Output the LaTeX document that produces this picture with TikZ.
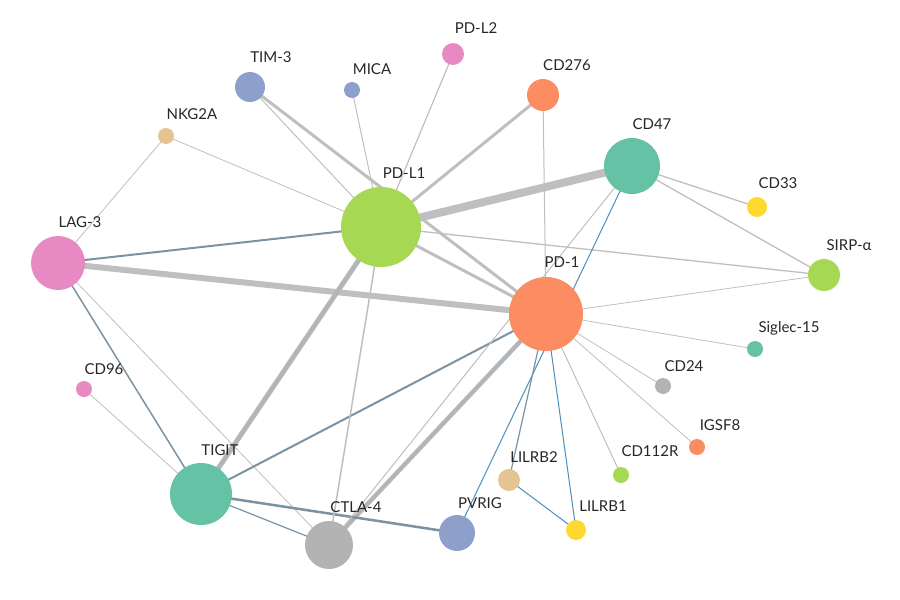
\documentclass[tikz,border=0pt]{standalone}
\usepackage{fontspec}
\setmainfont{Lato}
\begin{document}
\begin{tikzpicture}[x=1pt,y=-1pt,
 n/.style={circle,inner sep=0pt,minimum size=#1},
 lab/.style={font=\fontsize{15}{17}\selectfont,text=black!85},
 e/.style={draw=black!25,line width=#1},
 eb/.style={draw=bgr,line width=#1},
 ebl/.style={draw=bbl,line width=#1},
 dbl/.style={draw=black!28,line width=#1,postaction={draw=bgr!70,line width=0.8}}]
\useasboundingbox (0,0) rectangle (900,600);
\definecolor{cg}{HTML}{66C2A5}\definecolor{co}{HTML}{FC8D62}\definecolor{cb}{HTML}{8DA0CB}
\definecolor{cp}{HTML}{E78AC3}\definecolor{cl}{HTML}{A6D854}\definecolor{cy}{HTML}{FFD92F}
\definecolor{ct}{HTML}{E5C494}\definecolor{cgr}{HTML}{B3B3B3}
\definecolor{bgr}{HTML}{7B92A3}\definecolor{bbl}{HTML}{4A90BF}
\coordinate (PDL1) at (381,227); \coordinate (PD1) at (546,314); \coordinate (LAG3) at (58,263);
\coordinate (CD47) at (632,166); \coordinate (TIGIT) at (201,494); \coordinate (CTLA4) at (329,545);
\coordinate (PVRIG) at (457,533); \coordinate (TIM3) at (250,87); \coordinate (MICA) at (352,90);
\coordinate (PDL2) at (453,54); \coordinate (CD276) at (543,95); \coordinate (NKG2A) at (166,136);
\coordinate (CD33) at (757,207); \coordinate (SIRPA) at (824,275); \coordinate (SIG) at (755,349);
\coordinate (CD24) at (663,386); \coordinate (IGSF8) at (697,447); \coordinate (CD112R) at (621,475);
\coordinate (LILRB2) at (509,480); \coordinate (LILRB1) at (576,530); \coordinate (CD96) at (84,389);
% edges
\draw[e=8] (PDL1)--(CD47);
\draw[e=6] (LAG3)--(PD1);
\draw[dbl=5] (PDL1)--(TIGIT);
\draw[dbl=4.5] (PD1)--(CTLA4);
\draw[e=3] (PDL1)--(PD1);
\draw[e=3] (TIM3)--(PD1);
\draw[e=1] (TIM3)--(PDL1);
\draw[e=3] (PDL1)--(CD276);
\draw[e=1.2] (PDL1)--(PDL2);
\draw[e=1] (PDL1)--(MICA);
\draw[e=0.8] (PDL1)--(NKG2A);
\draw[eb=2] (LAG3)--(PDL1);
\draw[e=0.8] (LAG3)--(NKG2A);
\draw[eb=1.5] (LAG3)--(TIGIT);
\draw[e=0.8] (LAG3)--(CTLA4);
\draw[e=0.8] (CD96)--(TIGIT);
\draw[eb=2] (TIGIT)--(PD1);
\draw[eb=1.2] (TIGIT)--(CTLA4);
\draw[eb=2.5] (TIGIT)--(PVRIG);
\draw[e=1.5] (PDL1)--(CTLA4);
\draw[e=1.3] (PDL1)--(SIRPA);
\draw[e=0.8] (PD1)--(SIRPA);
\draw[e=1.3] (CD47)--(SIRPA);
\draw[e=1.3] (CD47)--(CD33);
\draw[e=1] (CD47)--(CTLA4);
\draw[ebl=1] (CD47)--(PVRIG);
\draw[e=1] (PD1)--(CD276);
\draw[e=0.8] (PD1)--(SIG);
\draw[e=0.8] (PD1)--(CD24);
\draw[e=0.8] (PD1)--(IGSF8);
\draw[e=1] (PD1)--(CD112R);
\draw[eb=1.2] (PD1)--(LILRB2);
\draw[ebl=1] (PD1)--(LILRB1);
\draw[ebl=1] (LILRB2)--(LILRB1);
% nodes
\node[n=80,fill=cl] (pdl1) at (PDL1) {}; \node[lab] at (404,173) {PD-L1};
\node[n=74,fill=co] (pd1) at (PD1) {}; \node[lab] at (562,262) {PD-1};
\node[n=54,fill=cp] (lag3) at (LAG3) {}; \node[lab] at (80,222) {LAG-3};
\node[n=56,fill=cg] (cd47) at (CD47) {}; \node[lab] at (652,124) {CD47};
\node[n=62,fill=cg] (tigit) at (TIGIT) {}; \node[lab] at (220,450) {TIGIT};
\node[n=48,fill=cgr] (ctla4) at (CTLA4) {}; \node[lab] at (356,507) {CTLA-4};
\node[n=36,fill=cb] (pvrig) at (PVRIG) {}; \node[lab] at (480,503) {PVRIG};
\node[n=30,fill=cb] (tim3) at (TIM3) {}; \node[lab] at (271,57) {TIM-3};
\node[n=16,fill=cb] (mica) at (MICA) {}; \node[lab] at (372,69) {MICA};
\node[n=22,fill=cp] (pdl2) at (PDL2) {}; \node[lab] at (476,28) {PD-L2};
\node[n=32,fill=co] (cd276) at (CD276) {}; \node[lab] at (567,65) {CD276};
\node[n=16,fill=ct] (nkg2a) at (NKG2A) {}; \node[lab] at (192,114) {NKG2A};
\node[n=20,fill=cy] (cd33) at (CD33) {}; \node[lab] at (778,183) {CD33};
\node[n=32,fill=cl] (sirpa) at (SIRPA) {}; \node[lab] at (849,245) {SIRP-α};
\node[n=16,fill=cg] (sig) at (SIG) {}; \node[lab] at (789,328) {Siglec-15};
\node[n=16,fill=cgr] (cd24) at (CD24) {}; \node[lab] at (684,366) {CD24};
\node[n=16,fill=co] (igsf8) at (IGSF8) {}; \node[lab] at (720,425) {IGSF8};
\node[n=16,fill=cl] (cd112r) at (CD112R) {}; \node[lab] at (650,451) {CD112R};
\node[n=22,fill=ct] (lilrb2) at (LILRB2) {}; \node[lab] at (534,457) {LILRB2};
\node[n=20,fill=cy] (lilrb1) at (LILRB1) {}; \node[lab] at (603,506) {LILRB1};
\node[n=16,fill=cp] (cd96) at (CD96) {}; \node[lab] at (104,369) {CD96};
\end{tikzpicture}
\end{document}
